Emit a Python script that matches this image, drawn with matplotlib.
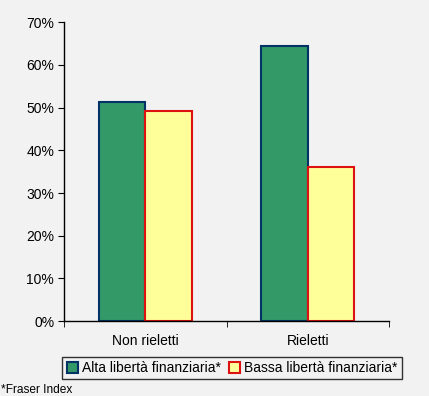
import numpy as np
import matplotlib.pyplot as plt
from matplotlib.ticker import FuncFormatter, FixedLocator

# Dati
categorie = ['Non rieletti', 'Rieletti']
alta = [51.2, 64.4]
bassa = [49.1, 36.0]
serie_labels = ['Alta libertà finanziaria*', 'Bassa libertà finanziaria*']
nota = '*Fraser Index'

plt.rcParams['font.family'] = ['Liberation Sans', 'DejaVu Sans']

sfondo = '#f2f2f2'
fig = plt.figure(figsize=(4.29, 3.96), dpi=100, facecolor=sfondo)
ax = fig.add_axes([0.149, 0.189, 0.758, 0.755])
ax.set_facecolor(sfondo)

x = np.arange(len(categorie))
w = 0.286
ax.bar(x - w/2, alta, w, color='#339966', edgecolor='#003366', linewidth=1.5,
       label=serie_labels[0])
ax.bar(x + w/2, bassa, w, color='#ffff99', edgecolor='#dd1111', linewidth=1.5,
       label=serie_labels[1])

ax.set_xlim(-0.5, len(categorie) - 0.5)
ax.set_ylim(0, 70)
ax.set_yticks(np.arange(0, 71, 10))
ax.yaxis.set_major_formatter(FuncFormatter(lambda v, p: '{:.0f}%'.format(v)))

ax.set_xticks(x)
ax.set_xticklabels(categorie)
ax.xaxis.set_minor_locator(FixedLocator(np.arange(-0.5, len(categorie), 1)))
ax.tick_params(axis='x', which='major', length=0, pad=9, labelsize=10, colors='black')
ax.tick_params(axis='x', which='minor', length=4, direction='out')
ax.tick_params(axis='y', length=4, direction='out', labelsize=10, pad=3)

for s in ['top', 'right']:
    ax.spines[s].set_visible(False)
ax.spines['left'].set_linewidth(1)
ax.spines['bottom'].set_linewidth(1)

leg = fig.legend(loc='center', bbox_to_anchor=(0.541, 0.07), ncol=2, fontsize=10,
                 frameon=True, fancybox=False, edgecolor='black', facecolor=sfondo,
                 handlelength=0.8, handleheight=0.8, handletextpad=0.3,
                 columnspacing=0.6, borderpad=0.3, borderaxespad=0)
leg.get_frame().set_linewidth(1)

fig.text(0.003, 0.0, nota, fontsize=8.6, ha='left', va='bottom')

fig.savefig('out.png', dpi=100, facecolor=sfondo)
